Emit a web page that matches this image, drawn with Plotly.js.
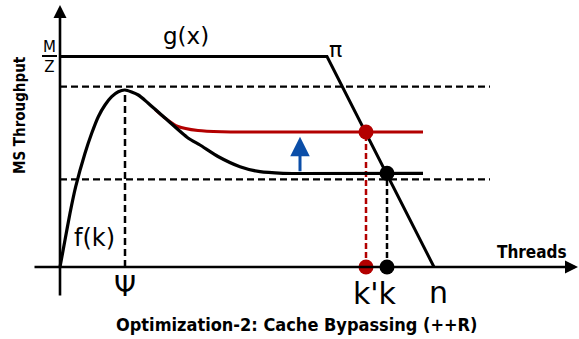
<!DOCTYPE html>
<html><head><meta charset="utf-8">
<script src="https://cdn.plot.ly/plotly-3.0.1.min.js"></script>
<style>html,body{margin:0;padding:0;background:#fff}#chart{width:579px;height:339px}</style>
</head><body><div id="chart"></div>
<script>
// Schematic values (threads on x, MS throughput on y, arbitrary units)
const fkX = [0, 5, 10, 15.7, 25, 31.7, 38.3, 45, 51.7, 58.3, 65, 78.3, 88, 105, 128, 140, 158, 180, 200, 223, 240, 363];
const fkY = [0, 27, 53.7, 80.3, 113.7, 133.7, 150.3, 162, 170.3, 175.3, 177, 172, 164, 149, 129, 122, 110.5, 100.3, 95.3, 93.7, 93.5, 93.7];
const bypassX = [95, 105, 118, 138, 162, 195, 363];
const bypassY = [157.5, 149, 140.5, 136.5, 135.2, 135, 135];
const gX = [0, 267, 374];
const gY = [210.5, 210.5, 0];
const peakLevel = 180.3;
const lowLevel = 87.7;
const guideEnd = 430;
const psi = 65, psiTop = 177;
const kPrime = 306, kPrimeY = 135;
const kVal = 327, kY = 93.7;
const nVal = 374;
const arrowX = 240, arrowFrom = 94.3, arrowTo = 130.3;
const xAxisStart = -27, xAxisEnd = 518;
const yAxisStart = -30, yAxisEnd = 262;

const RED = '#b30000', BLACK = '#000000', BLUE = '#0b4ea8';
const dash = '7px,4px';

const traces = [
  {x:[0, guideEnd], y:[peakLevel, peakLevel], mode:'lines', line:{color:BLACK, width:2.2, dash:dash}},
  {x:[0, guideEnd], y:[lowLevel, lowLevel], mode:'lines', line:{color:BLACK, width:2.2, dash:dash}},
  {x:[psi, psi], y:[0, psiTop], mode:'lines', line:{color:BLACK, width:2.5, dash:dash}},
  {x:[kPrime, kPrime], y:[0, kPrimeY], mode:'lines', line:{color:RED, width:2.5, dash:'6px,3px'}},
  {x:[kVal, kVal], y:[0, kY], mode:'lines', line:{color:BLACK, width:2.5, dash:'6px,3px'}},
  {x:bypassX, y:bypassY, mode:'lines', line:{color:RED, width:3, shape:'spline', smoothing:0.8}},
  {x:fkX, y:fkY, mode:'lines', line:{color:BLACK, width:3.2, shape:'spline', smoothing:0.6}},
  {x:gX, y:gY, mode:'lines', line:{color:BLACK, width:3}},
  {x:[kPrime, kPrime], y:[kPrimeY, 0], mode:'markers', marker:{color:RED, size:15}, cliponaxis:false},
  {x:[kVal, kVal], y:[kY, 0], mode:'markers', marker:{color:BLACK, size:15}, cliponaxis:false}
];

const F = 'DejaVu Sans';
const FC = 'DejaVu Sans Condensed, DejaVu Sans';
function label(text, x, y, size, extra) {
  return Object.assign({text:text, x:x, y:y, xref:'x', yref:'y', showarrow:false,
    font:{family:F, size:size, color:BLACK}}, extra || {});
}
function arrow(x, y, ax, ay, color, w, size) {
  return {x:x, y:y, ax:ax, ay:ay, xref:'x', yref:'y', axref:'x', ayref:'y', text:'',
    showarrow:true, arrowhead:2, arrowsize:size, arrowwidth:w, arrowcolor:color};
}

const annotations = [
  arrow(0, yAxisEnd, 0, yAxisStart, BLACK, 2.6, 1),
  arrow(xAxisEnd, 0, xAxisStart, 0, BLACK, 2.6, 1),
  arrow(arrowX, arrowTo, arrowX, arrowFrom, BLUE, 3, 1.3),
  label('g(x)', 126, 231, 23),
  label('π', 275, 218, 22),
  label('M<br>Z', -11, 210.5, 15),
  label('f(k)', 34.3, 29.5, 24),
  label('Ψ', psi, -19, 28),
  label("k'k", 315, -26, 30),
  label('n', 378.5, -25, 30),
  label('<b>Threads</b>', 471.7, 15, 17, {font:{family:FC, size:17, color:BLACK}}),
  label('<b>MS Throughput</b>', -40, 152, 15, {textangle:-90, font:{family:FC, size:15, color:BLACK}}),
  label('<b>Optimization-2: Cache Bypassing (++R)</b>', 236.7, -57, 18, {font:{family:FC, size:18, color:BLACK}})
];

const layout = {
  width:579, height:339, margin:{l:0, r:0, t:0, b:0},
  paper_bgcolor:'#fff', plot_bgcolor:'#fff', showlegend:false,
  xaxis:{range:[-60, 519], visible:false, fixedrange:true},
  yaxis:{range:[-72, 267], visible:false, fixedrange:true},
  shapes:[{type:'line', xref:'x', yref:'y', x0:-18, x1:-3, y0:211, y1:211, line:{color:BLACK, width:2}}],
  annotations:annotations
};
Plotly.newPlot('chart', traces, layout, {staticPlot:true, displayModeBar:false});
</script></body></html>
